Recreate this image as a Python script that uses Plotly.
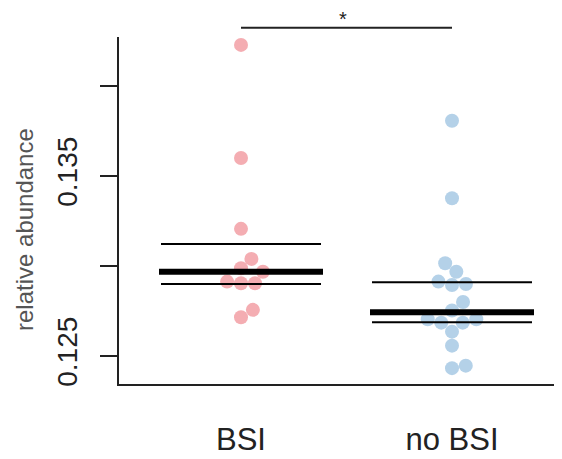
import plotly.graph_objects as go
import numpy as np

# ---- data ----
categories = ["BSI", "no BSI"]
bsi_values = [0.14228, 0.13600, 0.13206, 0.13039, 0.12987, 0.12968,
              0.12913, 0.12904, 0.12904, 0.12756, 0.12715]
nobsi_values = [0.13807, 0.13376, 0.13015, 0.12968, 0.12913, 0.12900,
                0.12894, 0.12800, 0.12752, 0.12704, 0.12704, 0.12685,
                0.12685, 0.12635, 0.12557, 0.12446, 0.12432]
median_values = [0.12968, 0.12743]
upper_values = [0.13122, 0.12910]
lower_values = [0.12900, 0.12687]
y_tick_values = [0.125, 0.130, 0.135, 0.140]
y_tick_labels = ["0.125", "", "0.135", ""]
y_title = "relative abundance"
signif_label = "*"

# ---- layout constants (page has an 8px body margin) ----
W, H = 554, 451
ML, MR, MT, MB = 111, 0, 29, 75
XR = [0.4218, 2.5213]
YR = [0.12344, 0.14272]
plot_w = W - ML - MR
plot_h = H - MT - MB
px_x = plot_w / (XR[1] - XR[0])
px_y = plot_h / (YR[1] - YR[0])
DOT = 14  # marker diameter in px


def swarm(vals):
    """beeswarm 'swarm' layout (ascending priority), offsets in data x units"""
    vals = np.asarray(vals, dtype=float)
    order = np.argsort(vals, kind="stable")
    ys = vals * px_y
    placed = []
    offs = np.zeros(len(vals))
    for i in order:
        y = ys[i]
        near = [(px, py) for px, py in placed if abs(py - y) < DOT]
        cands = [0.0]
        for px, py in near:
            cands.append(px + np.sqrt(DOT ** 2 - (py - y) ** 2))
        for px, py in near:
            cands.append(px - np.sqrt(DOT ** 2 - (py - y) ** 2))
        ok = []
        for c in cands:
            if all((c - px) ** 2 + (py - y) ** 2 >= DOT ** 2 - 1e-6 for px, py in near):
                ok.append(c)
        best = min(ok, key=lambda c: abs(c))
        placed.append((best, y))
        offs[i] = best / px_x
    return offs


fig = go.Figure()
groups = [(1, bsi_values, "rgba(239,138,145,0.7)"),
          (2, nobsi_values, "rgba(140,185,220,0.65)")]
for gx, vals, col in groups:
    off = swarm(vals)
    fig.add_trace(go.Scatter(
        x=gx + off, y=vals, mode="markers",
        marker=dict(size=DOT, color=col, line=dict(width=0)),
        cliponaxis=False, showlegend=False, hoverinfo="y"))

half_thin = 80 / px_x
half_thick = 82 / px_x
for i in range(len(categories)):
    gx = i + 1
    for val in (upper_values[i], lower_values[i]):
        fig.add_shape(type="line", xref="x", yref="y",
                      x0=gx - half_thin, x1=gx + half_thin, y0=val, y1=val,
                      line=dict(color="black", width=2))
    fig.add_shape(type="line", xref="x", yref="y",
                  x0=gx - half_thick, x1=gx + half_thick,
                  y0=median_values[i], y1=median_values[i],
                  line=dict(color="black", width=6))

# significance bar
bar_paper = 1 + 9.3 / plot_h
fig.add_shape(type="line", xref="x", yref="paper", x0=1, x1=2,
              y0=bar_paper, y1=bar_paper, line=dict(color="#222222", width=2))
fig.add_annotation(x=1.5, xref="x", yref="paper", xshift=-4,
                   y=1 + 18 / plot_h, yanchor="middle",
                   text=signif_label, showarrow=False,
                   font=dict(size=20, color="#222222", family="Liberation Sans"))

# y-axis title
fig.add_annotation(xref="paper", yref="paper", x=0, xshift=-95,
                   y=1 - (230 - 37) / plot_h, text=y_title,
                   textangle=-90, showarrow=False, xanchor="center",
                   yanchor="middle",
                   font=dict(size=24, color="#555555", family="Liberation Sans"))

fig.update_layout(
    width=W, height=H,
    margin=dict(l=ML, r=MR, t=MT, b=MB, pad=0),
    paper_bgcolor="white", plot_bgcolor="white",
    showlegend=False,
    xaxis=dict(range=XR, tickvals=[1, 2], ticktext=categories,
               showgrid=False, zeroline=False, showline=True,
               linecolor="#222222", linewidth=2, ticks="",
               ticklabelstandoff=27,
               tickfont=dict(size=31, color="#222222", family="Liberation Sans")),
    yaxis=dict(range=YR, tickvals=y_tick_values, ticktext=y_tick_labels,
               showgrid=False, zeroline=False, showline=True,
               linecolor="#222222", linewidth=2, ticks="outside",
               ticklen=17, tickwidth=2, tickcolor="#222222",
               tickangle=-90, ticklabelstandoff=12,
               tickfont=dict(size=28, color="#222222", family="Liberation Sans")),
)

fig.write_html("out.html")
